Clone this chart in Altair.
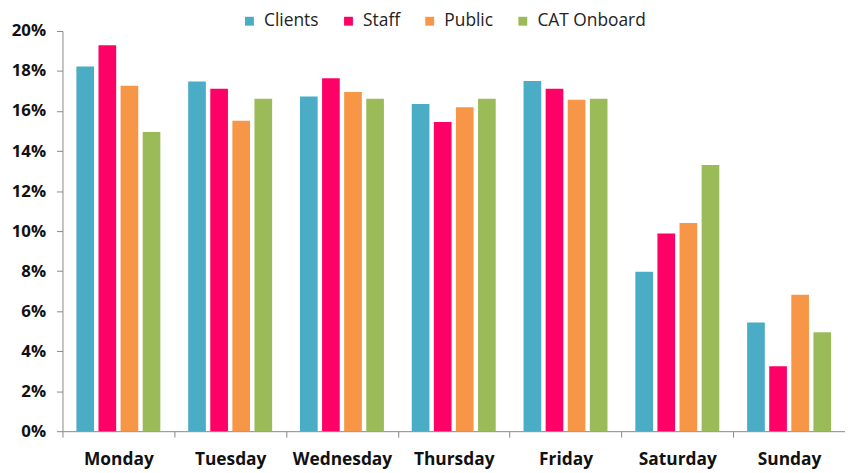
import altair as alt
import pandas as pd

days = ["Monday", "Tuesday", "Wednesday", "Thursday", "Friday", "Saturday", "Sunday"]
series = ["Clients", "Staff", "Public", "CAT Onboard"]
colors = ["#4BACC6", "#FF0066", "#F79646", "#9BBB59"]

clients = [0.1823, 0.1748, 0.1673, 0.1635, 0.1750, 0.0797, 0.0543]
staff = [0.1929, 0.1711, 0.1764, 0.1545, 0.1711, 0.0988, 0.0325]
public = [0.1726, 0.1551, 0.1695, 0.1619, 0.1657, 0.1041, 0.0682]
cat_onboard = [0.1495, 0.1662, 0.1662, 0.1662, 0.1662, 0.1330, 0.0495]

rows = []
for name, vals in zip(series, [clients, staff, public, cat_onboard]):
    for d, v in zip(days, vals):
        rows.append({"day": d, "series": name, "value": v})
df = pd.DataFrame(rows)

FONT = "Open Sans"

chart = alt.Chart(df).mark_bar().encode(
    x=alt.X("day:N", sort=days, title=None,
            scale=alt.Scale(paddingInner=0, paddingOuter=0),
            axis=alt.Axis(labelAngle=0, tickBand="extent", labelFont=FONT,
                          labelFontSize=17.5, labelFontWeight="bold", labelColor="#111111",
                          domainColor="#888888", tickColor="#888888", tickSize=6,
                          labelPadding=14)),
    xOffset=alt.XOffset("series:N", sort=series,
                        scale=alt.Scale(paddingInner=0.2, paddingOuter=0.63)),
    y=alt.Y("value:Q", title=None,
            scale=alt.Scale(domain=[0, 0.2], nice=False),
            axis=alt.Axis(format=".0%", values=[i / 50 for i in range(11)], grid=False,
                          labelFont=FONT, labelFontSize=17, labelFontWeight="bold",
                          labelColor="#111111", domainColor="#888888", tickColor="#888888",
                          tickSize=6, labelPadding=11)),
    color=alt.Color("series:N", sort=series,
                    scale=alt.Scale(domain=series, range=colors),
                    legend=alt.Legend(title=None, orient="none", direction="horizontal",
                                      legendX=180, legendY=-19, symbolType="square",
                                      symbolSize=80, symbolStrokeWidth=0,
                                      labelFont=FONT, labelFontSize=17.5, labelColor="#222222",
                                      columnPadding=21, labelOffset=6, padding=0)),
).properties(
    width=790, height=404,
    autosize=alt.AutoSizeParams(type="none"),
    padding={"left": 55, "top": 21, "right": 0, "bottom": 40},
).configure_view(stroke=None)

chart.save("out.html", embed_options={"renderer": "svg", "actions": False})
